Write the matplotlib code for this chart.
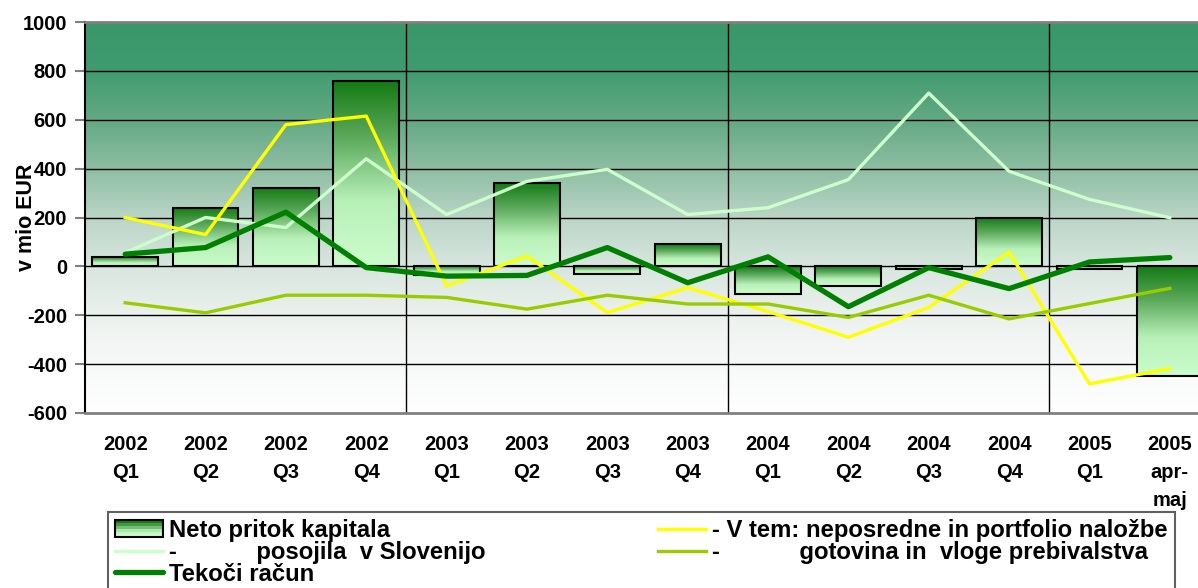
import numpy as np
import matplotlib
matplotlib.use('Agg')
from matplotlib import pyplot as plt
from matplotlib.colors import LinearSegmentedColormap
from matplotlib.patches import Rectangle
from matplotlib.legend_handler import HandlerBase

plt.rcParams['font.family'] = ['Liberation Sans', 'DejaVu Sans']
plt.rcParams['font.weight'] = 'bold'

# podatki (v mio EUR)
kategorije = ['2002\nQ1', '2002\nQ2', '2002\nQ3', '2002\nQ4',
              '2003\nQ1', '2003\nQ2', '2003\nQ3', '2003\nQ4',
              '2004\nQ1', '2004\nQ2', '2004\nQ3', '2004\nQ4',
              '2005\nQ1', '2005\napr-\nmaj']
neto_pritok = [40, 240, 320, 760, -37, 340, -33, 90, -113, -80, -10, 200, -10, -450]
neposredne_portfolio = [200, 130, 580, 615, -80, 42, -189, -87, -185, -290, -168, 58, -481, -418]
posojila = [56, 200, 159, 440, 212, 348, 397, 212, 240, 355, 709, 389, 274, 199]
gotovina = [-149, -190, -118, -118, -127, -175, -118, -154, -154, -209, -118, -215, -152, -90]
tekoci_racun = [50, 77, 222, -5, -40, -37, 77, -67, 39, -165, -5, -91, 18, 36]

ozadje_cmap = LinearSegmentedColormap.from_list('ozadje', [
    (0.0, (56/255, 152/255, 106/255)),
    (0.12, (64/255, 155/255, 111/255)),
    (0.25, (100/255, 169/255, 132/255)),
    (0.375, (142/255, 190/255, 163/255)),
    (0.5, (186/255, 213/255, 199/255)),
    (0.625, (216/255, 230/255, 223/255)),
    (0.75, (236/255, 241/255, 238/255)),
    (0.875, (247/255, 249/255, 248/255)),
    (1.0, (255/255, 255/255, 255/255)),
])
stolpec_cmap = LinearSegmentedColormap.from_list('stolpec', [
    (0.0, '#137a13'),
    (0.3, '#5aa85a'),
    (0.65, '#b8f0b8'),
    (1.0, '#ccfccc'),
])


class GradientHandler(HandlerBase):
    # crtasta (gradientna) ikona za stolpce v legendi
    def create_artists(self, legend, orig_handle, xdescent, ydescent,
                       width, height, fontsize, trans):
        artists = []
        n = 6
        for i in range(n):
            c = stolpec_cmap(i / (n - 1))
            r = Rectangle((-xdescent, -ydescent + height * (n - 1 - i) / n),
                          width, height / n, facecolor=c, edgecolor='none',
                          transform=trans)
            artists.append(r)
        artists.append(Rectangle((-xdescent, -ydescent), width, height,
                                 facecolor='none', edgecolor='black', lw=1.5,
                                 transform=trans))
        return artists


fig = plt.figure(figsize=(11.98, 5.88), dpi=100)
ax = fig.add_axes([85 / 1198, 1 - 413 / 588, (1210 - 85) / 1198, (413 - 22) / 588])

x = np.arange(len(kategorije))

# ozadje z gradientom
grad = np.linspace(0, 1, 256).reshape(-1, 1)
ax.imshow(grad, cmap=ozadje_cmap, aspect='auto', origin='upper',
          extent=(-0.5, len(kategorije) - 0.5, -600, 1000), zorder=0)

# mreza
for yv in range(-400, 1000, 200):
    ax.axhline(yv, color='black', lw=1, zorder=1)
for xv in [3.5, 7.5, 11.5]:
    ax.axvline(xv, color='black', lw=1, zorder=1)

# stolpci
bars = ax.bar(x, neto_pritok, width=0.82, facecolor='none', edgecolor='black',
              lw=1.5, zorder=3)
for p in bars:
    x0 = p.get_x()
    x1 = x0 + p.get_width()
    y0 = min(p.get_y(), p.get_y() + p.get_height())
    y1 = max(p.get_y(), p.get_y() + p.get_height())
    im = ax.imshow(grad, cmap=stolpec_cmap, aspect='auto', origin='upper',
                   extent=(x0, x1, y0, y1), zorder=2.5)
    im.set_clip_path(p)

l_pos, = ax.plot(x, posojila, color='#ccffcc', lw=2.4, zorder=4)
l_nep, = ax.plot(x, neposredne_portfolio, color='#ffff00', lw=2.4, zorder=4)
l_got, = ax.plot(x, gotovina, color='#99cc00', lw=2.4, zorder=4)
l_tek, = ax.plot(x, tekoci_racun, color='#008000', lw=3.8, zorder=5,
                 solid_capstyle='round')

ax.set_xlim(-0.5, len(kategorije) - 0.5)
ax.set_ylim(-600, 1000)
ax.set_yticks(range(-600, 1001, 200))
ax.set_yticklabels([str(v) for v in range(-600, 1001, 200)], fontsize=14.5,
                   fontweight='bold')
ax.set_xticks(x)
ax.set_xticklabels(kategorije, fontsize=14.5, fontweight='bold', linespacing=1.6)
ax.tick_params(axis='y', length=7, width=1.5, color='#808080', pad=6)
ax.tick_params(axis='x', length=0, pad=16)

ax.spines['top'].set_color('#808080')
ax.spines['top'].set_linewidth(2)
ax.spines['bottom'].set_color('#808080')
ax.spines['bottom'].set_linewidth(2)
ax.spines['left'].set_color('black')
ax.spines['left'].set_linewidth(1.5)
ax.spines['right'].set_visible(False)

ax.set_ylabel('v mio EUR', fontsize=15.5, fontweight='bold')
ax.yaxis.set_label_coords(-0.043, 0.5)

bar_handle = Rectangle((0, 0), 1, 1)
handles = [bar_handle, l_pos, l_tek, l_nep, l_got]
labels = ['Neto pritok kapitala',
          '-            posojila  v Slovenijo',
          'Tekoči račun',
          '- V tem: neposredne in portfolio naložbe',
          '-            gotovina in  vloge prebivalstva']
top = 1 - 512 / 588
leg = fig.legend(handles, labels, ncol=2, loc='upper left',
                 bbox_to_anchor=(108 / 1198, top - 0.3, (1175 - 108) / 1198, 0.3),
                 mode='expand', borderaxespad=0, fancybox=False,
                 edgecolor='#606060', framealpha=1, handlelength=2.0,
                 handletextpad=0.25, labelspacing=-0.05, borderpad=0.3,
                 prop={'size': 17.2, 'weight': 'bold'},
                 handler_map={Rectangle: GradientHandler()})
leg.get_frame().set_linewidth(1.5)

fig.savefig('out.png', dpi=100)
